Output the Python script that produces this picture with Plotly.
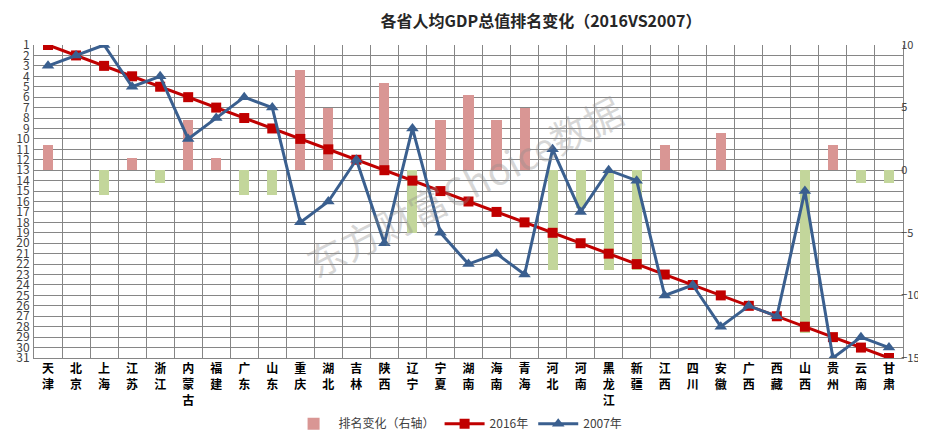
import plotly.graph_objects as go

provinces = ["天津", "北京", "上海", "江苏", "浙江", "内蒙古", "福建", "广东", "山东", "重庆",
             "湖北", "吉林", "陕西", "辽宁", "宁夏", "湖南", "海南", "青海", "河北", "河南",
             "黑龙江", "新疆", "江西", "四川", "安徽", "广西", "西藏", "山西", "贵州", "云南", "甘肃"]
rank_2016 = [1, 2, 3, 4, 5, 6, 7, 8, 9, 10, 11, 12, 13, 14, 15, 16, 17, 18, 19, 20,
             21, 22, 23, 24, 25, 26, 27, 28, 29, 30, 31]
rank_2007 = [3, 2, 1, 5, 4, 10, 8, 6, 7, 18, 16, 12, 20, 9, 19, 22, 21, 23, 11, 17,
             13, 14, 25, 24, 28, 26, 27, 15, 31, 29, 30]
rank_change = [2, 0, -2, 1, -1, 4, 1, -2, -2, 8, 5, 0, 7, -5, 4, 6, 4, 5, -8, -3,
               -8, -8, 2, 0, 3, 0, 0, -13, 2, -1, -1]

POS = "#D99694"
NEG = "#C3D69B"
FONT = "Noto Sans CJK SC"

x = list(range(len(provinces)))
labels = ["<b>" + "<br>".join(p) + "</b>" for p in provinces]

fig = go.Figure()

# bars on the primary (right) axis so the lines sit above them
fig.add_trace(go.Bar(
    x=x, y=rank_change, name="排名变化（右轴）", yaxis="y",
    marker=dict(color=[POS if v >= 0 else NEG for v in rank_change], line=dict(width=0)),
    width=0.36,
))
fig.add_trace(go.Scatter(
    x=x, y=rank_2016, name="2016年", yaxis="y2", mode="lines+markers",
    line=dict(color="#C00000", width=3),
    marker=dict(symbol="square", size=10, color="#C00000"),
))
fig.add_trace(go.Scatter(
    x=x, y=rank_2007, name="2007年", yaxis="y2", mode="lines+markers",
    line=dict(color="#3A5F8F", width=3),
    marker=dict(symbol="triangle-up", size=11, color="#3A5F8F"),
))

fig.update_layout(
    width=926, height=430,
    margin=dict(l=26, r=31, t=37, b=80, autoexpand=False),
    paper_bgcolor="white", plot_bgcolor="white",
    font=dict(family=FONT, size=12, color="#404040"),
    title=dict(text="<b>各省人均GDP总值排名变化（2016VS2007）</b>", x=533 / 926, xanchor="center",
               y=0.968, yanchor="middle", font=dict(size=16, color="#262626")),
    showlegend=True,
    legend=dict(orientation="h", x=0.488, xanchor="center", y=-0.21, yanchor="middle",
                font=dict(size=12, color="#404040"), itemwidth=40),
    bargap=0,
    xaxis=dict(
        range=[-0.5, 30.5], tickmode="array", tickvals=x, ticktext=labels, automargin=False,
        tickfont=dict(size=12, color="#000000", family=FONT), tickangle=0,
        showgrid=False, ticks="", showline=True, linecolor="#868686", linewidth=1,
        minor=dict(tick0=-0.5, dtick=1, showgrid=True, gridcolor="#868686", gridwidth=1),
        zeroline=False,
    ),
    yaxis=dict(
        side="right", range=[-15, 10], tickvals=[-15, -10, -5, 0, 5, 10], automargin=False,
        showgrid=False, zeroline=False, showline=True, linecolor="#868686",
        tickfont=dict(size=11, color="#404040"), ticks="", ticklabelstandoff=-5,
    ),
    yaxis2=dict(
        side="left", overlaying="y", range=[31, 1], tickmode="linear", tick0=1, dtick=1,
        showgrid=True, gridcolor="#868686", gridwidth=1, zeroline=False, automargin=False,
        showline=True, linecolor="#868686", ticks="", ticklabelstandoff=1,
        tickfont=dict(size=12, color="#404040"),
    ),
)

fig.add_annotation(
    text="东方财富Choice数据", xref="paper", yref="paper", x=0.495, y=0.55,
    showarrow=False, textangle=-27, font=dict(size=38, color="rgba(140,140,140,0.35)", family=FONT),
)

fig.write_html("out.html")
